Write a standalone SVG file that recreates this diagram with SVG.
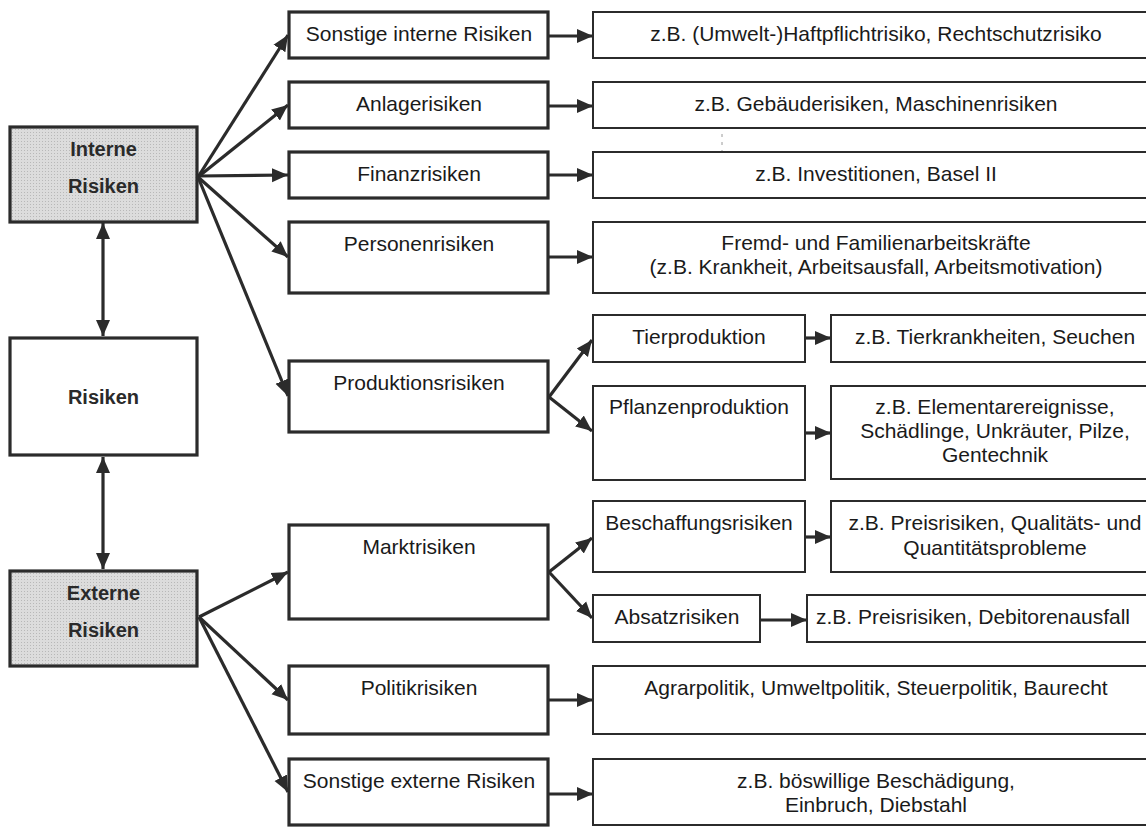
<svg xmlns="http://www.w3.org/2000/svg" width="1146" height="827" viewBox="0 0 1146 827">
<style>
  .bg{fill:#ffffff}
  .thick{fill:#ffffff;stroke:#2b2b2b;stroke-width:3.2}
  .thin{fill:#ffffff;stroke:#2b2b2b;stroke-width:2}
  .shade{fill:#d6d6d6;stroke:#2b2b2b;stroke-width:3.2}
  .t{font-family:"Liberation Sans",Arial,sans-serif;font-size:21px;fill:#1a1a1a;text-anchor:middle}
  .b{font-family:"Liberation Sans",Arial,sans-serif;font-size:20px;font-weight:bold;fill:#2a2a2a;text-anchor:middle}
  .c{stroke:#2b2b2b;stroke-width:3.2;fill:none;marker-end:url(#ah)}
  .d{stroke:#2b2b2b;stroke-width:3.2;fill:none;marker-end:url(#ah);marker-start:url(#ah)}
  .art{stroke:#9a9a9a;stroke-width:1;stroke-dasharray:3 5;fill:none}
</style>
<defs>
  <marker id="ah" markerUnits="userSpaceOnUse" markerWidth="18" markerHeight="16" refX="16" refY="8" orient="auto-start-reverse">
    <path d="M0,1 L16,8 L0,15 z" fill="#2b2b2b"/>
  </marker>
  <pattern id="dots" width="3" height="3" patternUnits="userSpaceOnUse">
    <rect width="3" height="3" fill="#dcdcdc"/>
    <rect width="1" height="1" fill="#b8b8b8"/>
  </pattern>
</defs>
<rect class="bg" x="0" y="0" width="1146" height="827"/>

<g id="connectors">
  <line class="d" x1="103" y1="223" x2="103" y2="336"/>
  <line class="d" x1="103" y1="457" x2="103" y2="569"/>
  <line class="c" x1="198" y1="177" x2="288" y2="35"/>
  <line class="c" x1="198" y1="177" x2="288" y2="105"/>
  <line class="c" x1="198" y1="176" x2="288" y2="175"/>
  <line class="c" x1="198" y1="177" x2="288" y2="257"/>
  <line class="c" x1="198" y1="177" x2="288" y2="396"/>
  <line class="c" x1="199" y1="617" x2="288" y2="572"/>
  <line class="c" x1="199" y1="617" x2="288" y2="700"/>
  <line class="c" x1="199" y1="617" x2="288" y2="792"/>
  <line class="c" x1="549" y1="36" x2="593" y2="36"/>
  <line class="c" x1="549" y1="106" x2="593" y2="106"/>
  <line class="c" x1="549" y1="175" x2="593" y2="175"/>
  <line class="c" x1="549" y1="257" x2="593" y2="257"/>
  <line class="c" x1="549" y1="700" x2="593" y2="700"/>
  <line class="c" x1="549" y1="794" x2="593" y2="794"/>
  <line class="c" x1="549" y1="397" x2="592" y2="340"/>
  <line class="c" x1="549" y1="397" x2="592" y2="431"/>
  <line class="c" x1="549" y1="572" x2="592" y2="538"/>
  <line class="c" x1="549" y1="572" x2="592" y2="618"/>
  <line class="c" x1="806" y1="338" x2="831" y2="338"/>
  <line class="c" x1="806" y1="433" x2="831" y2="433"/>
  <line class="c" x1="806" y1="537" x2="831" y2="537"/>
  <line class="c" x1="761" y1="620" x2="807" y2="620"/>
  <line class="art" x1="722" y1="118" x2="722" y2="155"/>
</g>

<g id="node-interne">
  <rect class="shade" x="10" y="127" width="187" height="95" style="fill:url(#dots)"/>
  <text class="b" x="103.5" y="156">Interne</text>
  <text class="b" x="103.5" y="193">Risiken</text>
</g>
<g id="node-risiken">
  <rect class="thick" x="10" y="338" width="187" height="117"/>
  <text class="b" x="103.5" y="404">Risiken</text>
</g>
<g id="node-externe">
  <rect class="shade" x="10" y="571" width="187" height="95" style="fill:url(#dots)"/>
  <text class="b" x="103.5" y="600">Externe</text>
  <text class="b" x="103.5" y="637">Risiken</text>
</g>

<g id="node-sonstige-interne">
  <rect class="thick" x="289" y="12" width="259" height="46"/>
  <text class="t" x="419" y="41">Sonstige interne Risiken</text>
</g>
<g id="node-anlage">
  <rect class="thick" x="289" y="82" width="259" height="46"/>
  <text class="t" x="419" y="111">Anlagerisiken</text>
</g>
<g id="node-finanz">
  <rect class="thick" x="289" y="152" width="259" height="46"/>
  <text class="t" x="419" y="181">Finanzrisiken</text>
</g>
<g id="node-personen">
  <rect class="thick" x="289" y="222" width="259" height="71"/>
  <text class="t" x="419" y="251">Personenrisiken</text>
</g>
<g id="node-produktion">
  <rect class="thick" x="289" y="361" width="259" height="71"/>
  <text class="t" x="419" y="390">Produktionsrisiken</text>
</g>
<g id="node-markt">
  <rect class="thick" x="289" y="525" width="259" height="94"/>
  <text class="t" x="419" y="554">Marktrisiken</text>
</g>
<g id="node-politik">
  <rect class="thick" x="289" y="666" width="259" height="68"/>
  <text class="t" x="419" y="695">Politikrisiken</text>
</g>
<g id="node-sonstige-externe">
  <rect class="thick" x="289" y="759" width="259" height="66"/>
  <text class="t" x="419" y="788">Sonstige externe Risiken</text>
</g>

<g id="node-ex-sonstige-interne">
  <rect class="thin" x="593" y="12" width="570" height="46"/>
  <text class="t" x="876" y="41">z.B. (Umwelt-)Haftpflichtrisiko, Rechtschutzrisiko</text>
</g>
<g id="node-ex-anlage">
  <rect class="thin" x="593" y="82" width="570" height="46"/>
  <text class="t" x="876" y="111">z.B. Gebäuderisiken, Maschinenrisiken</text>
</g>
<g id="node-ex-finanz">
  <rect class="thin" x="593" y="152" width="570" height="46"/>
  <text class="t" x="876" y="181">z.B. Investitionen, Basel II</text>
</g>
<g id="node-ex-personen">
  <rect class="thin" x="593" y="222" width="570" height="71"/>
  <text class="t" x="876" y="250">Fremd- und Familienarbeitskräfte</text>
  <text class="t" x="876" y="274">(z.B. Krankheit, Arbeitsausfall, Arbeitsmotivation)</text>
</g>

<g id="node-tier">
  <rect class="thin" x="593" y="315" width="212" height="47"/>
  <text class="t" x="699" y="344">Tierproduktion</text>
</g>
<g id="node-ex-tier">
  <rect class="thin" x="831" y="315" width="330" height="47"/>
  <text class="t" x="995" y="344">z.B. Tierkrankheiten, Seuchen</text>
</g>
<g id="node-pflanzen">
  <rect class="thin" x="593" y="386" width="212" height="94"/>
  <text class="t" x="699" y="414">Pflanzenproduktion</text>
</g>
<g id="node-ex-pflanzen">
  <rect class="thin" x="831" y="386" width="330" height="93"/>
  <text class="t" x="995" y="414">z.B. Elementarereignisse,</text>
  <text class="t" x="995" y="438">Schädlinge, Unkräuter, Pilze,</text>
  <text class="t" x="995" y="462">Gentechnik</text>
</g>
<g id="node-beschaffung">
  <rect class="thin" x="593" y="501" width="212" height="71"/>
  <text class="t" x="699" y="530">Beschaffungsrisiken</text>
</g>
<g id="node-ex-beschaffung">
  <rect class="thin" x="831" y="501" width="330" height="71"/>
  <text class="t" x="995" y="530">z.B. Preisrisiken, Qualitäts- und</text>
  <text class="t" x="995" y="555">Quantitätsprobleme</text>
</g>
<g id="node-absatz">
  <rect class="thin" x="593" y="595" width="167" height="47"/>
  <text class="t" x="677" y="624">Absatzrisiken</text>
</g>
<g id="node-ex-absatz">
  <rect class="thin" x="807" y="595" width="354" height="47"/>
  <text class="t" x="973" y="624">z.B. Preisrisiken, Debitorenausfall</text>
</g>

<g id="node-ex-politik">
  <rect class="thin" x="593" y="666" width="570" height="68"/>
  <text class="t" x="876" y="695">Agrarpolitik, Umweltpolitik, Steuerpolitik, Baurecht</text>
</g>
<g id="node-ex-sonstige-externe">
  <rect class="thin" x="593" y="759" width="570" height="66"/>
  <text class="t" x="876" y="788">z.B. böswillige Beschädigung,</text>
  <text class="t" x="876" y="812">Einbruch, Diebstahl</text>
</g>
</svg>
